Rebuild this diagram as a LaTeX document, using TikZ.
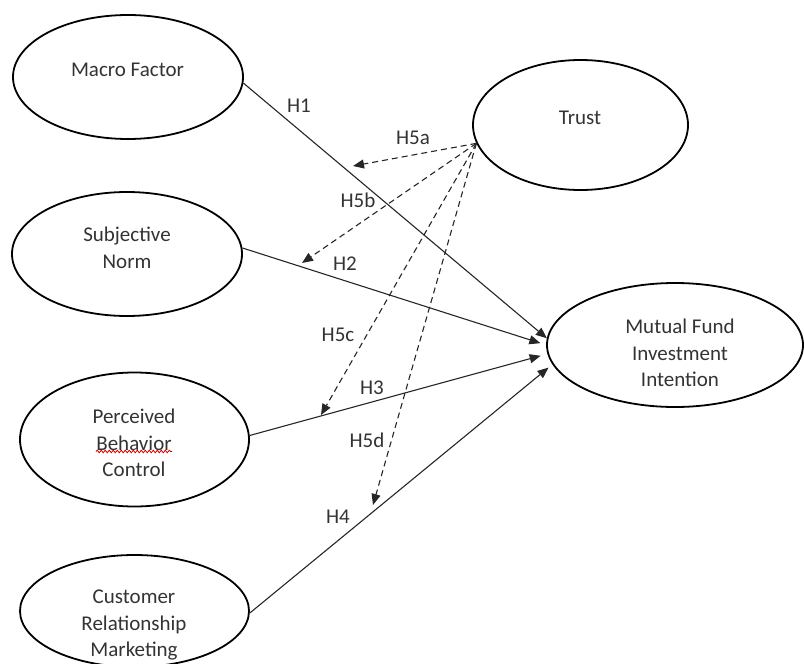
\documentclass[tikz,border=0pt]{standalone}
\usepackage{fontspec}
\setmainfont{Carlito}
\usetikzlibrary{arrows.meta,shapes.geometric,decorations.pathmorphing}
\begin{document}
\begin{tikzpicture}[x=1pt,y=-1pt,
  construct/.style={draw=black,line width=1.8pt,ellipse,inner sep=0pt},
  ctext/.style={align=center,inner sep=0pt,font=\fontsize{21}{26.5}\selectfont,text=black!80},
  hlabel/.style={anchor=base,inner sep=0pt,font=\fontsize{21}{26}\selectfont,text=black!80},
  hpath/.style={draw=black!85,line width=1.1pt,-{Triangle[length=11pt,width=9pt]}},
  moder/.style={draw=black!85,line width=1.1pt,dash pattern=on 6pt off 4pt,-{Triangle[length=11pt,width=9pt]}}]
\useasboundingbox (0,0) rectangle (804,664);

% constructs
\node[construct,minimum width=230pt,minimum height=124pt] (macro) at (128,77) {};
\node[construct,minimum width=230pt,minimum height=124pt] (subj) at (127,254) {};
\node[construct,minimum width=229pt,minimum height=134pt] (pbc) at (134.5,439.5) {};
\node[construct,minimum width=229pt,minimum height=112pt] (crm) at (134.5,611) {};
\node[construct,minimum width=215pt,minimum height=130pt] (trust) at (580.5,125) {};
\node[construct,minimum width=256pt,minimum height=124pt] (mfi) at (675,345) {};

% texts
\node[ctext] (tmacro) at (127.5,70) {Macro Factor};
\node[ctext] (tsubj) at (127,248) {Subjective\\Norm};
\node[ctext] (tpbc) at (134,443) {Perceived\\Behavior\\Control};
\node[ctext] (tcrm) at (134,625) {Customer\\Relationship\\Marketing};
\node[ctext] (ttrust) at (580,118) {Trust};
\node[ctext] (tmfi) at (680,353) {Mutual Fund\\Investment\\Intention};

% spell-check squiggle
\draw[red!85!black,line width=0.8pt,decorate,decoration={snake,amplitude=1.3pt,segment length=4pt}] (96,451.5) -- (172,451.5);

% direct paths
\draw[hpath] (macro.-3.5) -- (mfi.177.8);
\draw[hpath,shorten >=6pt] (subj.3.5) -- (mfi.180);
\draw[hpath,shorten >=7pt] (pbc.2) -- (mfi.184);
\draw[hpath,shorten >=5pt] (crm.-1.5) -- (mfi.189);

% moderation targets
\coordinate (m5a) at (353,166);
\coordinate (m5b) at (302,263);
\coordinate (m5c) at (321,415);
\coordinate (m5d) at (373,505);

\draw[moder] (trust.190) -- (m5a);
\draw[moder] (trust.190) -- (m5b);
\draw[moder] (trust.190) -- (m5c);
\draw[moder] (trust.190) -- (m5d);

% labels
\node[hlabel] (lh1) at (299,112) {H1};
\node[hlabel] (lh5a) at (413,144) {H5a};
\node[hlabel] (lh5b) at (358,207) {H5b};
\node[hlabel] (lh2) at (345,270) {H2};
\node[hlabel] (lh5c) at (338,341) {H5c};
\node[hlabel] (lh3) at (372,394) {H3};
\node[hlabel] (lh5d) at (367,447) {H5d};
\node[hlabel] (lh4) at (338,523) {H4};
\end{tikzpicture}
\end{document}
